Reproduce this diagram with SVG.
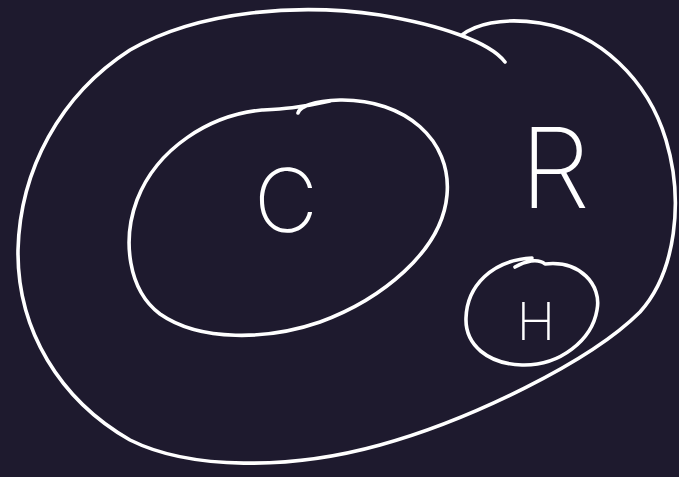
<svg xmlns="http://www.w3.org/2000/svg" width="679" height="477" viewBox="0 0 679 477">
<style>
.s{fill:none;stroke:#ffffff;stroke-width:3.6;stroke-linecap:round;stroke-linejoin:round}
.t{fill:#ffffff;font-family:Inter,"Liberation Sans",sans-serif;font-weight:200}
</style>
<rect width="679" height="477" fill="#1e1a2e"/>
<g id="node-R">
<path class="s" d="M505,62 C490,42 440,25 380,15 C300,3 200,10 130,50 C60,95 20,170 18,250 C17,330 60,400 130,440 C190,470 290,470 380,445 C470,420 590,362 640,312 C676,272 684,200 666,140 C648,80 600,33 540,23 C500,17 475,25 462,35"/>
<text class="t" x="555" y="208" font-size="112" text-anchor="middle">R</text>
</g>
<g id="node-C">
<path class="s" d="M298,113 C300,106 315,101 340,100 C405,99 452,140 447,195 C442,252 380,300 320,322 C268,340 200,342 160,314 C128,290 122,240 137,200 C157,148 210,115 262,110 C280,109 300,108 330,101"/>
<text class="t" x="286" y="232" font-size="88" text-anchor="middle">C</text>
</g>
<g id="node-H">
<path class="s" d="M515,267 C525,261 538,258 545,264 C580,260 602,285 597,310 C592,340 560,366 522,365 C488,364 465,345 466,318 C467,286 492,260 532,258"/>
<text class="t" x="536" y="340" font-size="52" text-anchor="middle">H</text>
</g>
<g id="connectors"/>
</svg>
